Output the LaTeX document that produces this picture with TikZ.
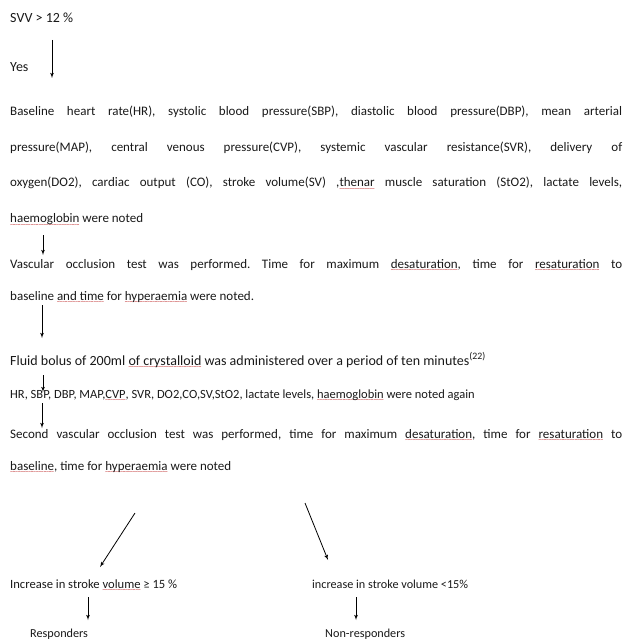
\documentclass[tikz,border=0pt]{standalone}
\usepackage{fontspec}
\setmainfont{Carlito}
\usetikzlibrary{arrows, calc}
\frenchspacing
% red squiggle of a spell checker under a word
\newcommand\spellchk[1]{\setbox0\hbox{#1}\rlap{\lower3.8pt\hbox to \wd0{\color{red!70!black}\fontsize{5}{5}\selectfont\xleaders\hbox{\char"7E}\hfill}}\box0\relax}
\tikzset{
    >=latex',
    flow/.style={->, line width=0.8pt},
    steptext/.style={anchor=base west, inner sep=0pt, text=black!90, font=\fontsize{#1}{16}\selectfont},
    steptext/.default=13.5,
    para/.style={steptext, text width=612pt, align=justify, font=\fontsize{13}{#1}\selectfont},
}
\begin{document}
\begin{tikzpicture}[x=1pt, y=-1pt]
    \useasboundingbox (0,0) rectangle (633,639);
    \node[steptext=14] (svv) at (10,23) {SVV > 12 \%};
    \node[steptext=14] (yes) at (10,72) {Yes};
    \node[para=35.5] (base) at (10,116) {Baseline heart rate(HR), systolic blood pressure(SBP), diastolic blood pressure(DBP), mean arterial\linebreak
        pressure(MAP), central venous pressure(CVP), systemic vascular resistance(SVR), delivery of\linebreak
        oxygen(DO2), cardiac output (CO), stroke volume(SV) ,\spellchk{thenar} muscle saturation (StO2), lactate levels,\linebreak
        \spellchk{haemoglobin} were noted};
    \node[para=32] (vot) at (10,268) {Vascular occlusion test was performed. Time for maximum \spellchk{desaturation}, time for \spellchk{resaturation} to\linebreak
        baseline \spellchk{and time} for \spellchk{hyperaemia} were noted.};
    \node[steptext=14] (bolus) at (10,365) {Fluid bolus of 200ml \spellchk{of crystalloid} was administered over a period of ten minutes\textsuperscript{(22)}};
    \node[steptext=12.5] (again) at (10,398) {HR, SBP, DBP, MAP,\spellchk{CVP}, SVR, DO2,CO,SV,StO2, lactate levels, \spellchk{haemoglobin} were noted again};
    \node[para=32] (second) at (10,438) {Second vascular occlusion test was performed, time for maximum \spellchk{desaturation}, time for \spellchk{resaturation} to\linebreak
        \spellchk{baseline}, time for \spellchk{hyperaemia} were noted};
    \node[steptext=12.6] (inc) at (10,588) {Increase in stroke \spellchk{volume} ≥ 15 \%};
    \node[steptext=12.2] (dec) at (312,588) {increase in stroke volume <15\%};
    \node[steptext=12.2] (resp) at (30,637) {Responders};
    \node[steptext=12.2] (nonresp) at (325,637) {Non-responders};
    % connectors
    \draw[flow] ($(svv.base west)+(42,17)$) -- ($(yes.base west)+(42,6)$);
    \draw[flow] ($(base.base west)+(33,119)$) -- ($(vot.base west)+(33,-13)$);
    \draw[flow] ($(vot.base west)+(32,37)$) -- ($(bolus.base west)+(32,-27)$);
    \draw[flow] ($(bolus.base west)+(33,10)$) -- ($(again.base west)+(33,-6)$);
    \draw[flow] ($(again.base west)+(32,5)$) -- ($(second.base west)+(32,-10)$);
    \draw[flow] ($(second.base west)+(125,75)$) -- ($(inc.base west)+(90,-21)$);
    \draw[flow] ($(second.base west)+(295,65)$) -- ($(dec.base west)+(16,-28)$);
    \draw[flow] ($(inc.base west)+(78,9)$) -- ($(resp.base west)+(58,-17)$);
    \draw[flow] ($(dec.base west)+(44,9)$) -- ($(nonresp.base west)+(31,-17)$);
\end{tikzpicture}
\end{document}
